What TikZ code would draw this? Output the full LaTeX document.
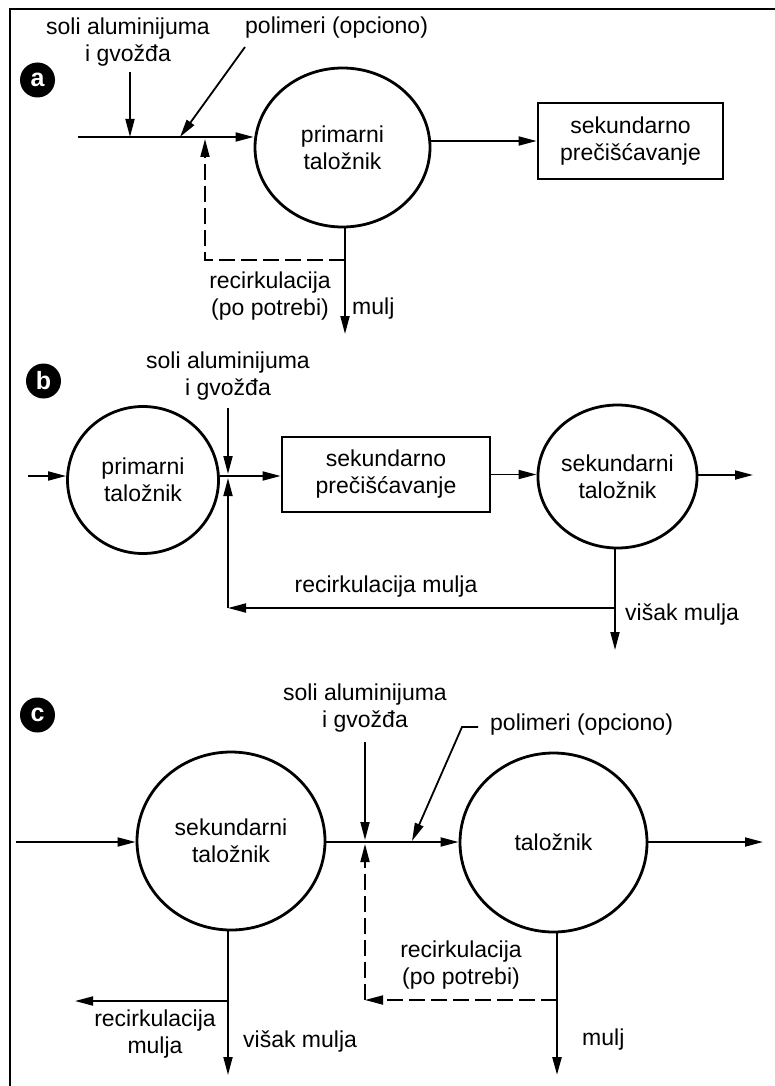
\documentclass[tikz,border=0pt]{standalone}
\usepackage{fontspec}
\setmainfont{Liberation Sans}
\usetikzlibrary{shapes.geometric,arrows.meta}
\begin{document}
\begin{tikzpicture}[x=1pt,y=-1pt,
  every node/.style={font=\fontsize{23}{27}\selectfont, inner sep=0pt, align=center},
  vessel/.style={draw, ellipse, line width=2.8pt},
  unit/.style={draw, rectangle, line width=2.8pt},
  tip/.style={-{Triangle[length=18pt,width=9pt]}},
  flow/.style={line width=1.8pt, tip},
  plain/.style={line width=1.8pt},
  recyc/.style={line width=1.8pt, dash pattern=on 16pt off 6pt, tip},
  badge/.style={circle, fill=black, text=white, minimum size=35pt, font=\fontsize{25}{25}\selectfont\bfseries},
]
\useasboundingbox (0,0) rectangle (775,1086);
\draw[line width=1.8pt] (10,1086) -- (10,9) -- (775,9);

% ---------------- a ----------------
\node[badge] (la) at (37.5,80) {a};
\node[vessel, minimum width=175pt, minimum height=159pt] (pa) at (342.5,147.5) {primarni\\taložnik};
\node[unit, minimum width=185pt, minimum height=76pt] (sa) at (630.5,141) {sekundarno\\prečišćavanje};
\coordinate (ain) at (78,137);
\coordinate (ja1) at (130,137);
\coordinate (ja2) at (180,137);
\coordinate (ja3) at (205,139);
\coordinate (sa1) at (130,72);
\coordinate (pa0) at (245,47);
\coordinate (ra1) at (345,260);
\coordinate (ra2) at (205,260);
\coordinate (oa) at (345,334);
\node (sola) at (128,42) {soli aluminijuma\\i gvožđa};
\node[anchor=west] (pola) at (245,28) {polimeri (opciono)};
\draw[flow] (ain) -- (pa.west |- ain);
\draw[flow] (sa1) -- (ja1);
\draw[flow] (pa0) -- (ja2);
\draw[flow] (pa.east |- sa.west) -- (sa.west);
\draw[flow] (pa.south -| oa) -- (oa);
\draw[recyc] (ra1) -- (ra2) -- (ja3);
\node (rta) at (270,296) {recirkulacija\\(po potrebi)};
\node[anchor=west] (mua) at (352,309) {mulj};

% ---------------- b ----------------
\node[badge] (lb) at (43.5,381) {b};
\node[vessel, minimum width=151pt, minimum height=147pt] (pb) at (143,480) {primarni\\taložnik};
\node[unit, minimum width=208pt, minimum height=75pt] (sb) at (386,474.5) {sekundarno\\prečišćavanje};
\node[vessel, minimum width=149pt, minimum height=143pt] (kb) at (617.5,476.5) {sekundarni\\taložnik};
\coordinate (bin) at (28,476);
\coordinate (jb) at (228,476);
\coordinate (jbt) at (228,474);
\coordinate (jbb) at (228,478);
\coordinate (sb1) at (228,408);
\coordinate (bout) at (753,475);
\coordinate (ob) at (615,650);
\coordinate (rb1) at (615,608);
\coordinate (rb2) at (228,608);
\node (solb) at (228,376.5) {soli aluminijuma\\i gvožđa};
\draw[flow] (bin) -- (pb.west |- bin);
\draw[flow] (pb.east |- jb) -- (sb.west |- jb);
\draw[flow] (sb1) -- (jbt);
\draw[flow] (sb.east) -- (kb.west |- sb.east);
\draw[flow] (kb.east |- bout) -- (bout);
\draw[flow] (kb.south -| ob) -- (ob);
\draw[flow] (rb1) -- (rb2);
\draw[flow] (rb2) -- (jbb);
\node (rtb) at (386,587) {recirkulacija mulja};
\node[anchor=west] (vmb) at (625,615) {višak mulja};

% ---------------- c ----------------
\node[badge] (lc) at (37.5,715) {c};
\node[vessel, minimum width=188pt, minimum height=178pt] (kc) at (231,841) {sekundarni\\taložnik};
\node[vessel, minimum width=187pt, minimum height=179pt] (tc) at (553.5,842.5) {taložnik};
\coordinate (cin) at (16,842);
\coordinate (jct) at (365,840);
\coordinate (jcb) at (365,844);
\coordinate (sc1) at (365,742);
\coordinate (pc0) at (478,727);
\coordinate (pc1) at (462,727);
\coordinate (jc2) at (412,841);
\coordinate (cout) at (763,842);
\coordinate (rc1) at (557,1000);
\coordinate (rc2) at (365,1000);
\coordinate (oc) at (557,1075);
\coordinate (okc) at (228,1075);
\coordinate (jk) at (228,1001);
\coordinate (rk) at (75,1001);
\node (solc) at (365,708) {soli aluminijuma\\i gvožđa};
\node[anchor=west] (polc) at (490,725) {polimeri (opciono)};
\draw[flow] (cin) -- (kc.west |- cin);
\draw[flow] (kc.east |- cin) -- (tc.west |- cin);
\draw[flow] (tc.east |- cout) -- (cout);
\draw[flow] (sc1) -- (jct);
\draw[flow] (pc0) -- (pc1) -- (jc2);
\draw[recyc] (rc1) -- (rc2);
\draw[recyc] (rc2) -- (jcb);
\draw[flow, line width=2.4pt] (tc.south -| oc) -- (oc);
\draw[flow] (kc.south -| okc) -- (okc);
\draw[flow] (jk) -- (rk);
\node (rtc) at (155,1034) {recirkulacija\\mulja};
\node[anchor=west] (vmc) at (243,1042) {višak mulja};
\node (rtc2) at (461,965.5) {recirkulacija\\(po potrebi)};
\node[anchor=west] (muc) at (582,1040) {mulj};
\end{tikzpicture}
\end{document}
